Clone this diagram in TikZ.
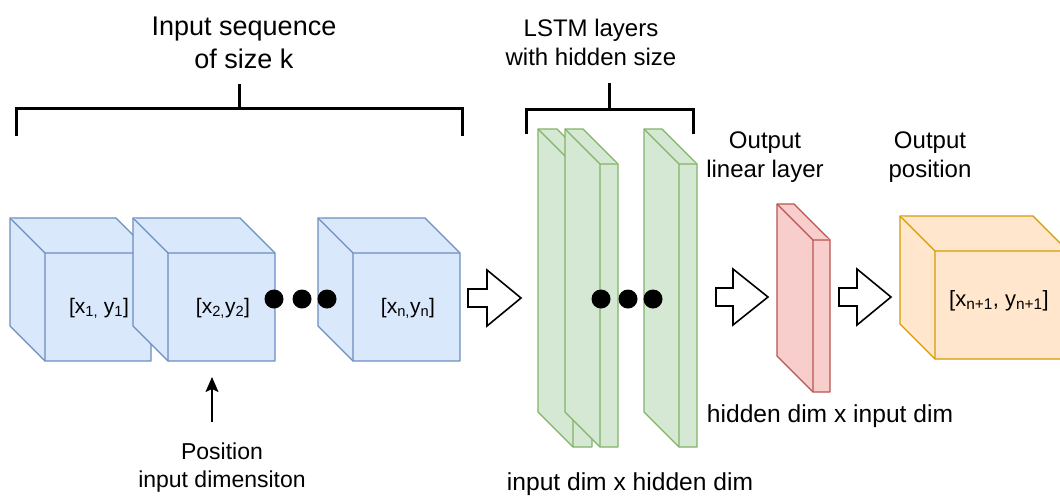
\documentclass[tikz,border=0pt]{standalone}
\usepackage{fontspec}
\setmainfont{Liberation Sans}
\usetikzlibrary{arrows.meta}

\definecolor{blueFill}{HTML}{DAE8FC}
\definecolor{blueLine}{HTML}{6C8EBF}
\definecolor{greenFill}{HTML}{D5E8D4}
\definecolor{greenLine}{HTML}{82B366}
\definecolor{redFill}{HTML}{F8CECC}
\definecolor{redLine}{HTML}{B85450}
\definecolor{orangeFill}{HTML}{FFE6CC}
\definecolor{orangeLine}{HTML}{D79B00}

% 3-D box: style, left, top, right, bottom, depth (y grows downwards)
\newcommand\drawprism[6]{%
  \filldraw[#1] (#2,#3) -- (#4-#6,#3) -- (#4,#3+#6) -- (#4,#5)
    -- (#2+#6,#5) -- (#2,#5-#6) -- cycle;
  \draw[#1] (#2,#3) -- (#2+#6,#3+#6) -- (#4,#3+#6)
    (#2+#6,#3+#6) -- (#2+#6,#5);
}
% hollow block arrow: tail x, head-base x, tip x, centre y
\newcommand\blockarrow[4]{%
  \filldraw[blockarr] (#1,#4-9) -- (#2,#4-9) -- (#2,#4-28) -- (#3,#4)
    -- (#2,#4+28) -- (#2,#4+9) -- (#1,#4+9) -- cycle;
}
\newcommand\fsz[1]{\fontsize{#1}{1.2\dimexpr #1pt\relax}\selectfont}

\tikzset{
  bluebox/.style={fill=blueFill, draw=blueLine, line width=1.4pt, line join=round},
  greenbox/.style={fill=greenFill, draw=greenLine, line width=1.4pt, line join=round},
  redbox/.style={fill=redFill, draw=redLine, line width=1.4pt, line join=round},
  orangebox/.style={fill=orangeFill, draw=orangeLine, line width=1.4pt, line join=round},
  blockarr/.style={fill=white, draw=black, line width=1.6pt, line join=miter},
  bracket/.style={draw=black, line width=3pt},
  lbl/.style={inner sep=0pt, anchor=base, align=center, text=black},
  dot/.style={fill=black},
}

\begin{document}
\begin{tikzpicture}[x=1pt, y=-1pt]
\useasboundingbox (0,0) rectangle (1060,496);
\fill[white] (0,0) rectangle (1060,496);

% input sequence cubes
\drawprism{bluebox}{10}{218}{151}{361}{35}
\drawprism{bluebox}{133}{218}{275}{361}{35}
\drawprism{bluebox}{318}{218}{460}{361}{35}
\node[lbl, font=\fsz{21}] (x1) at (99,313) {[x\textsubscript{1,} y\textsubscript{1}]};
\node[lbl, font=\fsz{21}] (x2) at (223,313) {[x\textsubscript{2,}y\textsubscript{2}]};
\node[lbl, font=\fsz{21}] (xn) at (408,313) {[x\textsubscript{n,}y\textsubscript{n}]};
\foreach \cx in {274,302,327} \fill[dot] (\cx,299) circle [radius=9.5pt];

% bracket over the input sequence
\draw[bracket] (16,136) -- (16,108) -- (462,108) -- (462,136);
\draw[bracket] (239,108) -- (239,84);
\node[lbl, font=\fsz{27}] (inseq) at (244,68) {Input sequence\\of size k};

% position dimension pointer
\node[lbl, font=\fsz{23}] (posdim) at (222,487) {Position\\input dimensiton};
\coordinate (pa) at (212,422);
\coordinate (pb) at (212,377);
\draw[line width=1.8pt, -{Stealth[length=15pt, width=13pt, inset=3pt]}] (pa) -- (pb);

% input -> LSTM
\blockarrow{468}{487}{521}{298}

% LSTM layers
\drawprism{greenbox}{538}{129}{592}{447}{35}
\drawprism{greenbox}{565}{129}{618}{447}{35}
\drawprism{greenbox}{644}{129}{697}{447}{35}
\foreach \cx in {601,628,653} \fill[dot] (\cx,299) circle [radius=9.5pt];
\draw[bracket] (526,134) -- (526,109) -- (693,109) -- (693,134);
\draw[bracket] (609,109) -- (609,83);
\node[lbl, font=\fsz{24}] (lstm) at (591,65) {LSTM layers\\with hidden size};
\node[lbl, font=\fsz{24.6}] (lstmdim) at (630,490) {input dim x hidden dim};

% LSTM -> linear layer
\blockarrow{716}{733}{768}{297}

% output linear layer
\drawprism{redbox}{777}{204}{830}{392}{36}
\node[lbl, font=\fsz{24}] (linear) at (765,177) {Output\\linear layer};
\node[lbl, font=\fsz{24.6}] (lindim) at (830,422) {hidden dim x input dim};

% linear layer -> output position
\blockarrow{839}{857}{891}{297}

% output position cube (runs past the right edge)
\begin{scope}
  \clip (0,0) rectangle (1060,496);
  \drawprism{orangebox}{900}{216}{1068}{359}{35}
\end{scope}
\node[lbl, font=\fsz{22}] (xnext) at (999,306) {[x\textsubscript{n+1}, y\textsubscript{n+1}]};
\node[lbl, font=\fsz{24}] (outpos) at (930,177) {Output\\position};
\end{tikzpicture}
\end{document}
